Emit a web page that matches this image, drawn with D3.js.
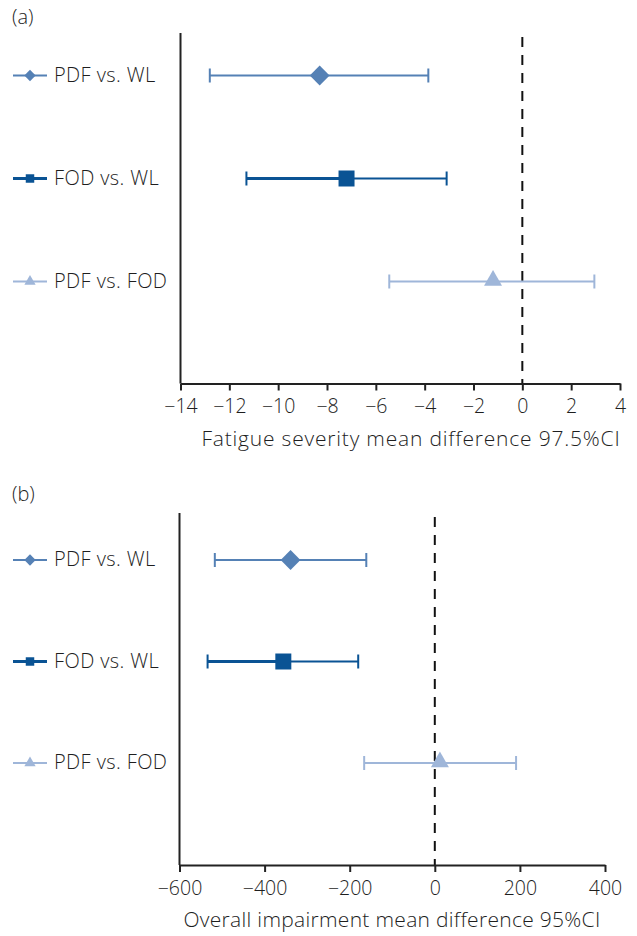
<!DOCTYPE html>
<html>
<head>
<meta charset="utf-8">
<script src="https://cdn.jsdelivr.net/npm/d3@7"></script>
<style>
  body { margin: 0; background: #fff; }
  text { font-family: "Open Sans", Roboto, sans-serif; font-weight: 300; fill: #1e1e1e; }
</style>
</head>
<body>
<svg id="chart" width="637" height="936"></svg>
<script>
// comparisons, top to bottom
var comparisons = ["PDF vs. WL", "FOD vs. WL", "PDF vs. FOD"];

// (a) fatigue severity, mean difference with 97.5% CI
var fatigueMean = [-8.3, -7.2, -1.2];
var fatigueLow = [-12.8, -11.3, -5.45];
var fatigueHigh = [-3.85, -3.1, 2.95];
var fatigueTicks = [-14, -12, -10, -8, -6, -4, -2, 0, 2, 4];

// (b) overall impairment, mean difference with 95% CI
var impairMean = [-339, -356, 12];
var impairLow = [-517, -534, -166];
var impairHigh = [-161, -180, 191];
var impairTicks = [-600, -400, -200, 0, 200, 400];

var styles = [
    { color: "#5581b5", shape: d3.symbolSquare, rot: 45, size: 196, legendSize: 64, left: 2, right: 2 },
    { color: "#0a5394", shape: d3.symbolSquare, rot: 0, size: 256, legendSize: 72, left: 3, right: 2 },
    { color: "#9fb6d9", shape: d3.symbolTriangle, rot: 0, size: 140, legendSize: 55, left: 2, right: 2 }
];

var svg = d3.select("#chart");

function drawPanel(cfg) {
    var x = d3.scaleLinear().domain(cfg.domain).range(cfg.xRange);
    var y = d3.scalePoint().domain(comparisons).range(cfg.yRange);

    var rows = comparisons.map(function (c, i) {
        return { name: c, mean: cfg.mean[i], low: cfg.low[i], high: cfg.high[i], s: styles[i] };
    });

    var g = svg.append("g");

    g.append("text")
        .attr("x", 12)
        .attr("y", cfg.labelY)
        .style("font-size", "20px")
        .text(cfg.label);

    // y axis line
    g.append("line")
        .attr("x1", x.range()[0]).attr("x2", x.range()[0])
        .attr("y1", cfg.top).attr("y2", cfg.axisY)
        .attr("stroke", "#222").attr("stroke-width", 2);

    // zero line
    g.append("line")
        .attr("x1", x(0)).attr("x2", x(0))
        .attr("y1", cfg.top + 4).attr("y2", cfg.axisY)
        .attr("stroke", "#111").attr("stroke-width", 2)
        .attr("stroke-dasharray", "10,8");

    // x axis
    var axis = g.append("g")
        .attr("transform", "translate(0," + cfg.axisY + ")")
        .call(d3.axisBottom(x).tickValues(cfg.ticks).tickSize(7).tickSizeOuter(0).tickPadding(9));
    axis.select(".domain").attr("stroke", "#222").attr("stroke-width", 2);
    axis.selectAll(".tick line").attr("stroke", "#222").attr("stroke-width", 2);
    axis.selectAll(".tick text")
        .style("font-size", "19.5px")
        .style("font-family", "'Open Sans', Roboto, sans-serif")
        .style("font-weight", 300)
        .attr("fill", "#1e1e1e");

    g.append("text")
        .attr("x", cfg.titleX)
        .attr("y", cfg.titleY)
        .attr("text-anchor", "middle")
        .style("font-size", "21px")
        .style("letter-spacing", cfg.titleSpacing)
        .text(cfg.title);

    // error bars
    var bars = g.selectAll(".bar").data(rows).enter().append("g").attr("class", "bar");

    bars.append("line")
        .attr("x1", function (d) { return x(d.low); })
        .attr("x2", function (d) { return x(d.mean); })
        .attr("y1", function (d) { return y(d.name); })
        .attr("y2", function (d) { return y(d.name); })
        .attr("stroke", function (d) { return d.s.color; })
        .attr("stroke-width", function (d) { return d.s.left; });

    bars.append("line")
        .attr("x1", function (d) { return x(d.mean); })
        .attr("x2", function (d) { return x(d.high); })
        .attr("y1", function (d) { return y(d.name); })
        .attr("y2", function (d) { return y(d.name); })
        .attr("stroke", function (d) { return d.s.color; })
        .attr("stroke-width", function (d) { return d.s.right; });

    ["low", "high"].forEach(function (k) {
        bars.append("line")
            .attr("x1", function (d) { return x(d[k]); })
            .attr("x2", function (d) { return x(d[k]); })
            .attr("y1", function (d) { return y(d.name) - 7; })
            .attr("y2", function (d) { return y(d.name) + 7; })
            .attr("stroke", function (d) { return d.s.color; })
            .attr("stroke-width", 2);
    });

    bars.append("path")
        .attr("transform", function (d) {
            var dy = d.s.shape === d3.symbolTriangle ? -1 : 0;
            return "translate(" + x(d.mean) + "," + (y(d.name) + dy) + ") rotate(" + d.s.rot + ")";
        })
        .attr("d", function (d) { return d3.symbol().type(d.s.shape).size(d.s.size)(); })
        .attr("fill", function (d) { return d.s.color; });

    // legend labels on the left
    var leg = g.selectAll(".leg").data(rows).enter().append("g")
        .attr("class", "leg")
        .attr("transform", function (d) { return "translate(0," + y(d.name) + ")"; });

    leg.append("line")
        .attr("x1", 13).attr("x2", 47)
        .attr("stroke", function (d) { return d.s.color; })
        .attr("stroke-width", function (d) { return d.s.left; });

    leg.append("path")
        .attr("transform", function (d) { return "translate(30,0) rotate(" + d.s.rot + ")"; })
        .attr("d", function (d) { return d3.symbol().type(d.s.shape).size(d.s.legendSize)(); })
        .attr("fill", function (d) { return d.s.color; });

    leg.append("text")
        .attr("x", 54)
        .attr("dy", "0.3em")
        .style("font-size", "20px")
        .style("letter-spacing", "0.4px")
        .text(function (d) { return d.name; });
}

drawPanel({
    label: "(a)", labelY: 24,
    domain: [-14, 4], xRange: [180.5, 620], yRange: [75.5, 281.5],
    top: 33, axisY: 383.5, ticks: fatigueTicks,
    mean: fatigueMean, low: fatigueLow, high: fatigueHigh,
    title: "Fatigue severity mean difference 97.5%CI", titleX: 411, titleY: 446, titleSpacing: "0.8px"
});

drawPanel({
    label: "(b)", labelY: 501,
    domain: [-600, 400], xRange: [179.5, 605], yRange: [560, 763],
    top: 513, axisY: 865, ticks: impairTicks,
    mean: impairMean, low: impairLow, high: impairHigh,
    title: "Overall impairment mean difference 95%CI", titleX: 392, titleY: 927, titleSpacing: "0.3px"
});
</script>
</body>
</html>
